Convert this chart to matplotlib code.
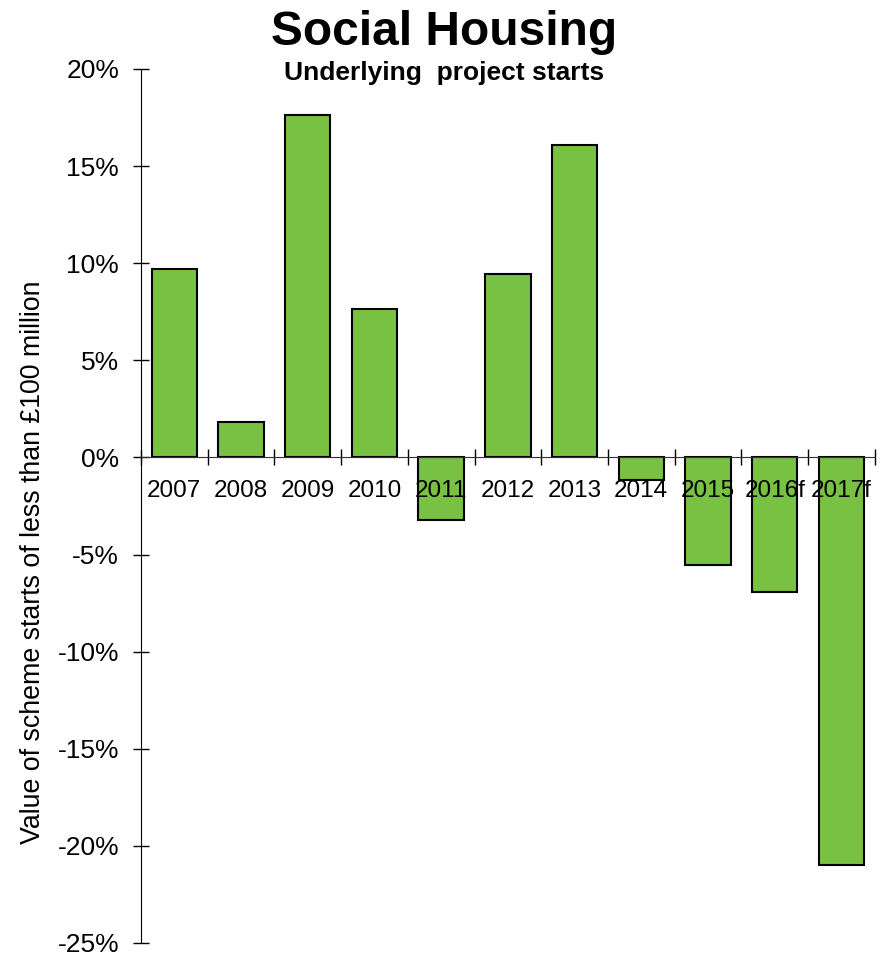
import matplotlib.pyplot as plt
from matplotlib.ticker import FixedLocator, NullFormatter
import numpy as np

plt.rcParams['font.family'] = ['Liberation Sans', 'DejaVu Sans']

years = ['2007', '2008', '2009', '2010', '2011', '2012', '2013', '2014', '2015', '2016f', '2017f']
change = [9.7, 1.8, 17.65, 7.65, -3.2, 9.45, 16.1, -1.15, -5.55, -6.95, -21.0]
yticks = [-25, -20, -15, -10, -5, 0, 5, 10, 15, 20]

fig = plt.figure(figsize=(8.89, 9.58), dpi=100)
ax = fig.add_axes([0.1586, 0.0157, 0.984 - 0.1586, 0.928 - 0.0157])

x = np.arange(len(years))
ax.bar(x, change, width=0.68, color='#79C143', edgecolor='black', linewidth=1.5, zorder=1)

ax.set_xlim(-0.5, len(years) - 0.5)
ax.set_ylim(-25, 20)

# spines
ax.spines['top'].set_visible(False)
ax.spines['right'].set_visible(False)
ax.spines['bottom'].set_position(('data', 0))
ax.spines['bottom'].set_color('#333333')

# y ticks
ax.set_yticks(yticks)
ax.set_yticklabels([f'{v}%' for v in yticks])
ax.tick_params(axis='y', direction='inout', length=11.5, width=1, labelsize=19, pad=10)

# x ticks: marks between categories, labels at the centres
ax.xaxis.set_major_locator(FixedLocator(np.arange(len(years) + 1) - 0.5))
ax.xaxis.set_major_formatter(NullFormatter())
ax.set_xticks(x, minor=True)
ax.set_xticklabels(years, minor=True)
ax.tick_params(axis='x', which='major', direction='inout', length=11.5, width=1)
ax.tick_params(axis='x', which='minor', length=0, labelsize=17.5, pad=16)

ax.set_ylabel('Value of scheme starts of less than £100 million', fontsize=19.3)
ax.yaxis.set_label_coords(-0.129, 0.436)

fig.text(0.5, 0.966, 'Social Housing', ha='center', va='center', fontsize=34.5, fontweight='bold')
fig.text(0.5, 0.924, 'Underlying  project starts', ha='center', va='center', fontsize=19, fontweight='bold')

fig.savefig('out.png', dpi=100)
